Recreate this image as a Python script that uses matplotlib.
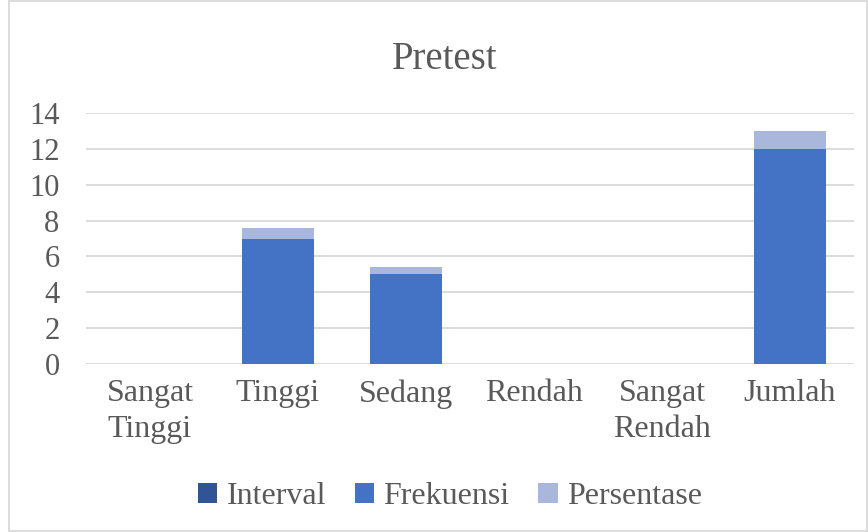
import matplotlib
matplotlib.use('Agg')
import numpy as np
from matplotlib import pyplot as plt
from matplotlib.patches import Rectangle

categories = ['Sangat\nTinggi', 'Tinggi', 'Sedang', 'Rendah', 'Sangat\nRendah', 'Jumlah']
interval = [0, 0, 0, 0, 0, 0]
frekuensi = [0, 7, 5, 0, 0, 12]
persentase = [0, 0.58, 0.42, 0, 0, 1.0]

plt.rcParams['font.family'] = ['Liberation Serif', 'DejaVu Serif']
txt = '#595959'

fig = plt.figure(figsize=(8.68, 5.32), dpi=100)
ax = fig.add_axes([86/868, 1-364/532, 768/868, 251/532])

x = np.arange(len(categories))
w = 0.57
ax.bar(x, interval, w, color='#2f5597', label='Interval', zorder=3)
ax.bar(x, frekuensi, w, bottom=interval, color='#4472c4', label='Frekuensi', zorder=3)
bottom2 = np.array(interval) + np.array(frekuensi)
ax.bar(x, persentase, w, bottom=bottom2, color='#a9b7dc', label='Persentase', zorder=3)

ax.set_ylim(0, 14)
ax.set_yticks(range(0, 15, 2))
ax.set_xlim(-0.5, len(categories) - 0.5)
ax.set_xticks(x)
ax.set_xticklabels(categories, fontsize=23, color=txt, linespacing=1.3)
ax.tick_params(axis='y', labelsize=22, colors=txt, length=0, pad=19)
ax.tick_params(axis='x', length=0, pad=11)
ax.yaxis.grid(True, color='#d9d9d9', linewidth=1.3, zorder=0)
for s in ax.spines.values():
    s.set_visible(False)

fig.text(445/868, 1-60/532, 'Pretest', ha='center', va='center', fontsize=28, color=txt)

leg = fig.legend(loc='center', bbox_to_anchor=(450/868, 1-497/532), ncol=3, frameon=False,
                 fontsize=23, handlelength=0.6, handleheight=0.6, handletextpad=0.3,
                 columnspacing=0.9)
for t in leg.get_texts():
    t.set_color(txt)

fig.patches.append(Rectangle((9/868, 0.002), 1-10/868, 0.996, transform=fig.transFigure,
                             fill=False, edgecolor='#d9d9d9', linewidth=1.3))

plt.savefig('out.png', dpi=100)
plt.close()
